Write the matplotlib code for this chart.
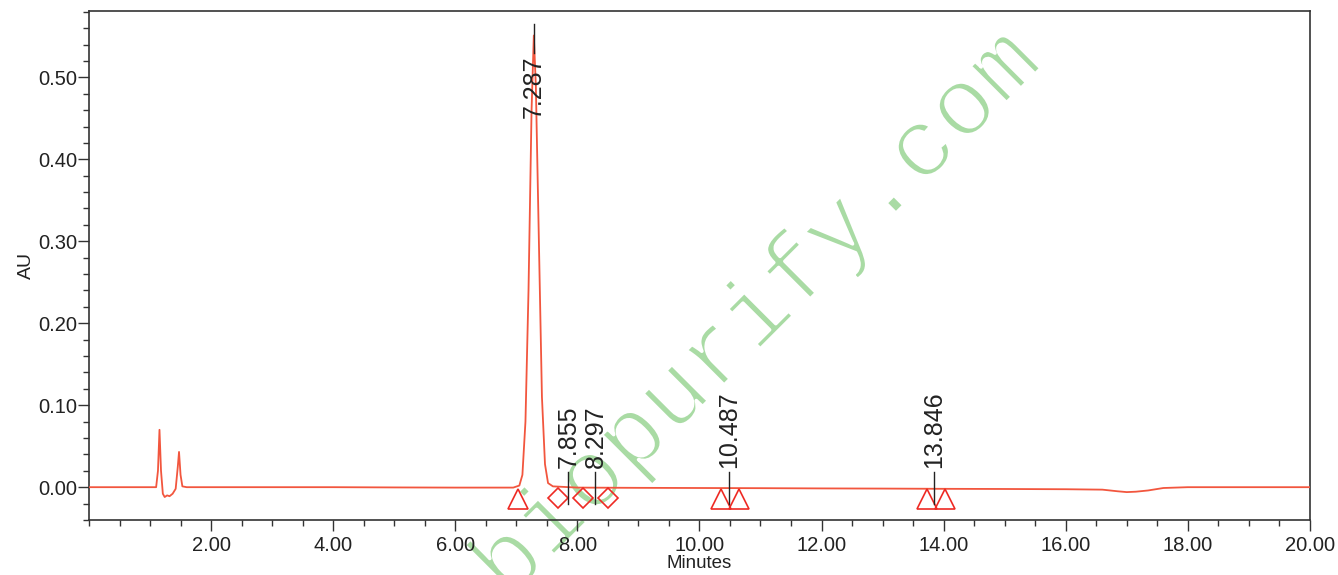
import matplotlib
matplotlib.use('Agg')
import matplotlib.pyplot as plt
import matplotlib.patheffects as pe
from matplotlib.ticker import MultipleLocator, FormatStrFormatter

plt.rcParams['font.family'] = ['Liberation Sans', 'DejaVu Sans']

# trace (minutes, AU)
time = [0.00, 0.50, 1.00, 1.10, 1.13, 1.155, 1.18, 1.21, 1.24, 1.28, 1.32, 1.37, 1.42,
        1.455, 1.475, 1.50, 1.53, 1.60, 2.00, 3.00, 4.00, 5.00, 6.00, 6.95, 7.05, 7.10,
        7.15, 7.20, 7.25, 7.287, 7.32, 7.37, 7.42, 7.47, 7.52, 7.60, 8.00, 9.00, 10.00,
        11.00, 12.00, 13.00, 14.00, 15.00, 16.00, 16.60, 16.85, 17.00, 17.15, 17.35,
        17.60, 18.00, 19.00, 20.00]
au = [0.000, 0.000, 0.000, 0.000, 0.020, 0.070, 0.020, -0.008, -0.012, -0.010, -0.011,
      -0.008, -0.002, 0.025, 0.043, 0.015, 0.001, 0.000, 0.000, 0.000, 0.000, -0.0003,
      -0.0005, -0.0005, 0.002, 0.015, 0.080, 0.240, 0.460, 0.551, 0.490, 0.300, 0.110,
      0.028, 0.005, 0.001, -0.0005, -0.0008, -0.001, -0.0012, -0.0015, -0.0017, -0.002,
      -0.0022, -0.0025, -0.003, -0.005, -0.006, -0.0055, -0.004, -0.001, 0.000, 0.000,
      0.000]

peak_times = [7.287, 7.855, 8.297, 10.487, 13.846]
peak_labels = ['7.287', '7.855', '8.297', '10.487', '13.846']

tri_times = [7.03, 10.36, 10.65, 13.73, 14.02]
tri_au = [-0.015, -0.015, -0.015, -0.015, -0.015]
dia_times = [7.68, 8.09, 8.50]
dia_au = [-0.013, -0.013, -0.013]

fig = plt.figure(figsize=(13.38, 5.75), dpi=100)
ax = fig.add_axes([0.0665, 0.0957, 0.9125, 0.8853])
ax.patch.set_alpha(0)

ax.plot(time, au, color='#f2563e', lw=1.3, zorder=3)
ax.plot(tri_times, tri_au, ls='none', marker='^', ms=14, mfc='none', mec='#ee2a24', mew=1.2, zorder=4)
ax.plot(dia_times, dia_au, ls='none', marker='D', ms=10, mfc='none', mec='#ee2a24', mew=1.2, zorder=4)

for t, lab in zip(peak_times, peak_labels):
    if t == 7.287:
        ax.plot([t, t], [0.565, 0.53], color='#222222', lw=1, zorder=5)
        ax.text(t, 0.527, lab, rotation=90, ha='center', va='top', fontsize=18, color='#222222', zorder=5)
    else:
        ax.plot([t, t], [0.018, -0.02], color='#222222', lw=1, zorder=5)
        ax.text(t, 0.023, lab, rotation=90, ha='center', va='bottom', fontsize=18, color='#222222', zorder=5)

ax.set_xlim(0, 20)
ax.set_ylim(-0.04, 0.581)
ax.xaxis.set_minor_locator(MultipleLocator(0.5))
ax.yaxis.set_major_locator(MultipleLocator(0.1))
ax.yaxis.set_minor_locator(MultipleLocator(0.02))
ax.xaxis.set_major_formatter(FormatStrFormatter('%.2f'))
ax.yaxis.set_major_formatter(FormatStrFormatter('%.2f'))
ax.set_xticks([v for v in range(2, 21, 2)])
ax.tick_params(which='major', direction='out', length=8, width=1, color='#333333',
               labelsize=14.5, labelcolor='#222222')
ax.tick_params(which='minor', direction='out', length=4.5, width=1, color='#333333')
ax.tick_params(axis='y', which='major', pad=0.5)
for s in ax.spines.values():
    s.set_color('#333333')
    s.set_linewidth(1.2)

ax.set_xlabel('Minutes', fontsize=13.5, labelpad=0, color='#222222')
ax.set_ylabel('AU', fontsize=14, labelpad=2, color='#222222')

fig.text(0.567, 0.452, 'biopurify.com', family='Liberation Mono', fontsize=70,
         color='#a9dba4', rotation=45, rotation_mode='anchor', ha='center', va='center', zorder=-1,
         path_effects=[pe.Normal(), pe.Stroke(linewidth=2.4, foreground='white')])

fig.savefig('out.png', dpi=100)
